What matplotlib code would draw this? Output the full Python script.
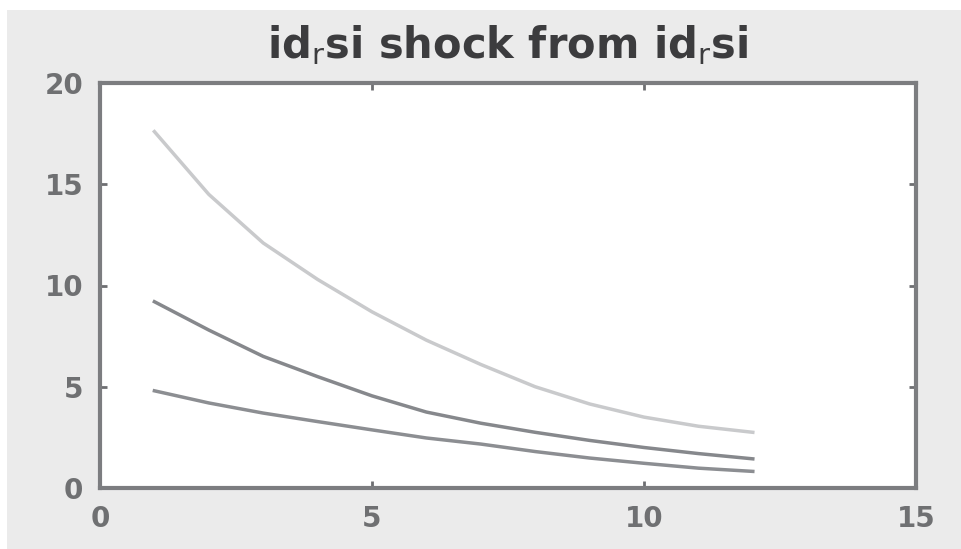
import numpy as np
import matplotlib.pyplot as plt
from matplotlib.patches import Rectangle

# Periodos (horizonte de la respuesta)
periodos = np.arange(1, 13)

# Respuestas (banda superior, mediana, banda inferior)
banda_sup = [17.6, 14.5, 12.1, 10.3, 8.7, 7.3, 6.1, 5.0, 4.15, 3.5, 3.05, 2.75]
mediana = [9.2, 7.8, 6.5, 5.5, 4.55, 3.75, 3.2, 2.75, 2.35, 2.0, 1.7, 1.44]
banda_inf = [4.8, 4.2, 3.7, 3.28, 2.87, 2.47, 2.17, 1.8, 1.48, 1.22, 0.98, 0.82]

titulo = r'id$_\mathrm{r}$si shock from id$_\mathrm{r}$si'
xticks = [0, 5, 10, 15]
yticks = [0, 5, 10, 15, 20]

plt.rcParams['font.family'] = ['DejaVu Sans']

fig = plt.figure(figsize=(9.61, 5.49), dpi=100)
fig.patch.set_facecolor('white')
# Fondo gris tipo MATLAB con un borde blanco arriba e izquierda
fig.patches.append(Rectangle((7 / 961, 0), 1, 1 - 10 / 549, transform=fig.transFigure,
                             facecolor='#ebebeb', edgecolor='none', zorder=-10))

ax = fig.add_axes([100 / 961, 61 / 549, 816 / 961, 405 / 549])
ax.set_facecolor('white')

ax.plot(periodos, banda_sup, color='#c9cacc', lw=2.5)
ax.plot(periodos, mediana, color='#86888c', lw=2.5)
ax.plot(periodos, banda_inf, color='#8c8e92', lw=2.5)

ax.set_xlim(0, 15)
ax.set_ylim(0, 20)
ax.set_xticks(xticks)
ax.set_yticks(yticks)

for s in ax.spines.values():
    s.set_color('#7c7d80')
    s.set_linewidth(3)

ax.tick_params(direction='in', length=5, width=2, color='#6e6f72',
               top=True, right=True, labelsize=20, labelcolor='#6f7072', pad=12)
for lab in ax.get_xticklabels() + ax.get_yticklabels():
    lab.set_fontweight('bold')

ax.set_title(titulo, fontsize=30, fontweight='bold', color='#3c3c3e', pad=18)

fig.savefig('out.png', dpi=100, facecolor=fig.get_facecolor())
